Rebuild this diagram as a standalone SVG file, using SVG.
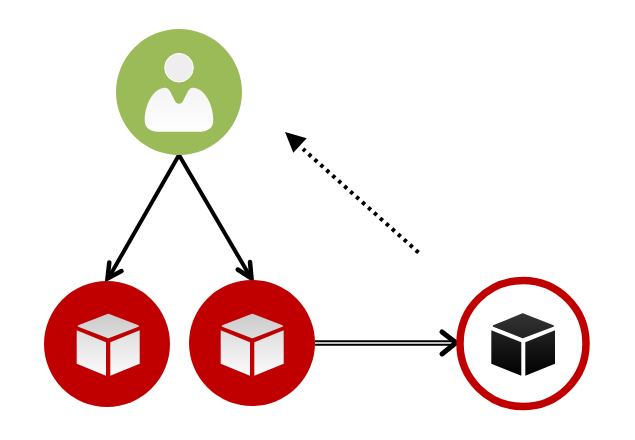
<svg xmlns="http://www.w3.org/2000/svg" xmlns:xlink="http://www.w3.org/1999/xlink" width="635" height="440" viewBox="0 0 635 440">
<style>
.edge{fill:none;stroke:#000;stroke-width:4}
.chev{fill:none;stroke:#000;stroke-width:4.500;stroke-linecap:round;stroke-linejoin:miter}
.red{fill:#c00000}
.light{fill:url(#lightFace)}
.lightTop{fill:url(#lightTop);stroke:url(#lightTop);stroke-width:1.500;stroke-linejoin:round}
.dark{fill:url(#darkFace)}
.darkTop{fill:url(#darkTop);stroke:url(#darkTop);stroke-width:1.500;stroke-linejoin:round}
</style>
<defs>
<linearGradient id="lightTop" x1="0" y1="0" x2="0" y2="1"><stop offset="0" stop-color="#cbcbcb"/><stop offset="1" stop-color="#dcdcdc"/></linearGradient>
<linearGradient id="lightFace" x1="0" y1="0" x2="0" y2="1"><stop offset="0" stop-color="#dedede"/><stop offset="1" stop-color="#fbfbfb"/></linearGradient>
<linearGradient id="darkTop" x1="0" y1="0" x2="0" y2="1"><stop offset="0" stop-color="#333"/><stop offset="1" stop-color="#222"/></linearGradient>
<linearGradient id="darkFace" x1="0" y1="0" x2="0" y2="1"><stop offset="0" stop-color="#222"/><stop offset="1" stop-color="#000"/></linearGradient>
<linearGradient id="bodyFill" x1="0" y1="0" x2="0" y2="1"><stop offset="0" stop-color="#f4f4f4"/><stop offset="1" stop-color="#fff"/></linearGradient>
<g id="cubeLight">
<path class="lightTop" d="M108.300 314.500 L138.200 326 L108.300 337.500 L78.500 326 Z"/>
<path class="light" d="M76.700 330.300 L106 342.300 V375.700 L76.700 363.700 Z"/>
<path class="light" d="M110.300 342.300 L139.700 330.300 V363.700 L110.300 375.700 Z"/>
</g>
</defs>
<g id="connectors">
<path class="edge" d="M179 155 L108 279"/>
<path class="chev" d="M109.300 262.500 L107.500 278.500 L121.500 271"/>
<path class="edge" d="M179 155 L251 278"/>
<path class="chev" d="M237.700 269.500 L251.500 278.500 L250 262"/>
<path d="M315 343 H454" fill="none" stroke="#000" stroke-width="5.500"/>
<path d="M315 343 H455" fill="none" stroke="#fff" stroke-width="1.600"/>
<path d="M442 332 L456 342.700 L442 354" fill="none" stroke="#000" stroke-width="5" stroke-linecap="round"/>
<path d="M418.500 252.500 L303 149" fill="none" stroke="#000" stroke-width="4" stroke-dasharray="3.500 4.500"/>
<path d="M285 132 L306.700 138.300 L293.300 152.700 Z" fill="#000"/>
</g>
<g id="user">
<circle cx="179" cy="92" r="63" fill="#9bbb59"/>
<circle cx="179" cy="67.700" r="14.300" fill="#eee" stroke="#fff" stroke-width="1"/>
<path d="M163 88 C166 87 168 88 170 91 L175 101 C177 104.500 181 104.500 183 101 L188 91 C190 88 192 87 195 88 C205 90 213 104 213.300 120 C213.500 127 209 131.700 200 131.700 H158 C149 131.700 144.500 127 144.700 120 C145 104 153 90 163 88 Z" fill="url(#bodyFill)"/>
</g>
<g id="node-a">
<circle class="red" cx="107" cy="344" r="63"/>
<use xlink:href="#cubeLight" href="#cubeLight"/>
</g>
<g id="node-b">
<circle class="red" cx="252" cy="343" r="63"/>
<use xlink:href="#cubeLight" href="#cubeLight" x="144"/>
</g>
<g id="node-c">
<circle cx="523" cy="343.500" r="63" fill="#fff" stroke="#c00000" stroke-width="7.500"/>
<path class="darkTop" d="M522.700 314 L553.200 326 L522.700 337.600 L493.500 326 Z"/>
<path class="dark" d="M491.300 330.300 L521.300 342.300 V375.700 L491.300 363.700 Z"/>
<path class="dark" d="M525.300 342.300 L555 330.300 V363.700 L525.300 375.700 Z"/>
</g>
</svg>
